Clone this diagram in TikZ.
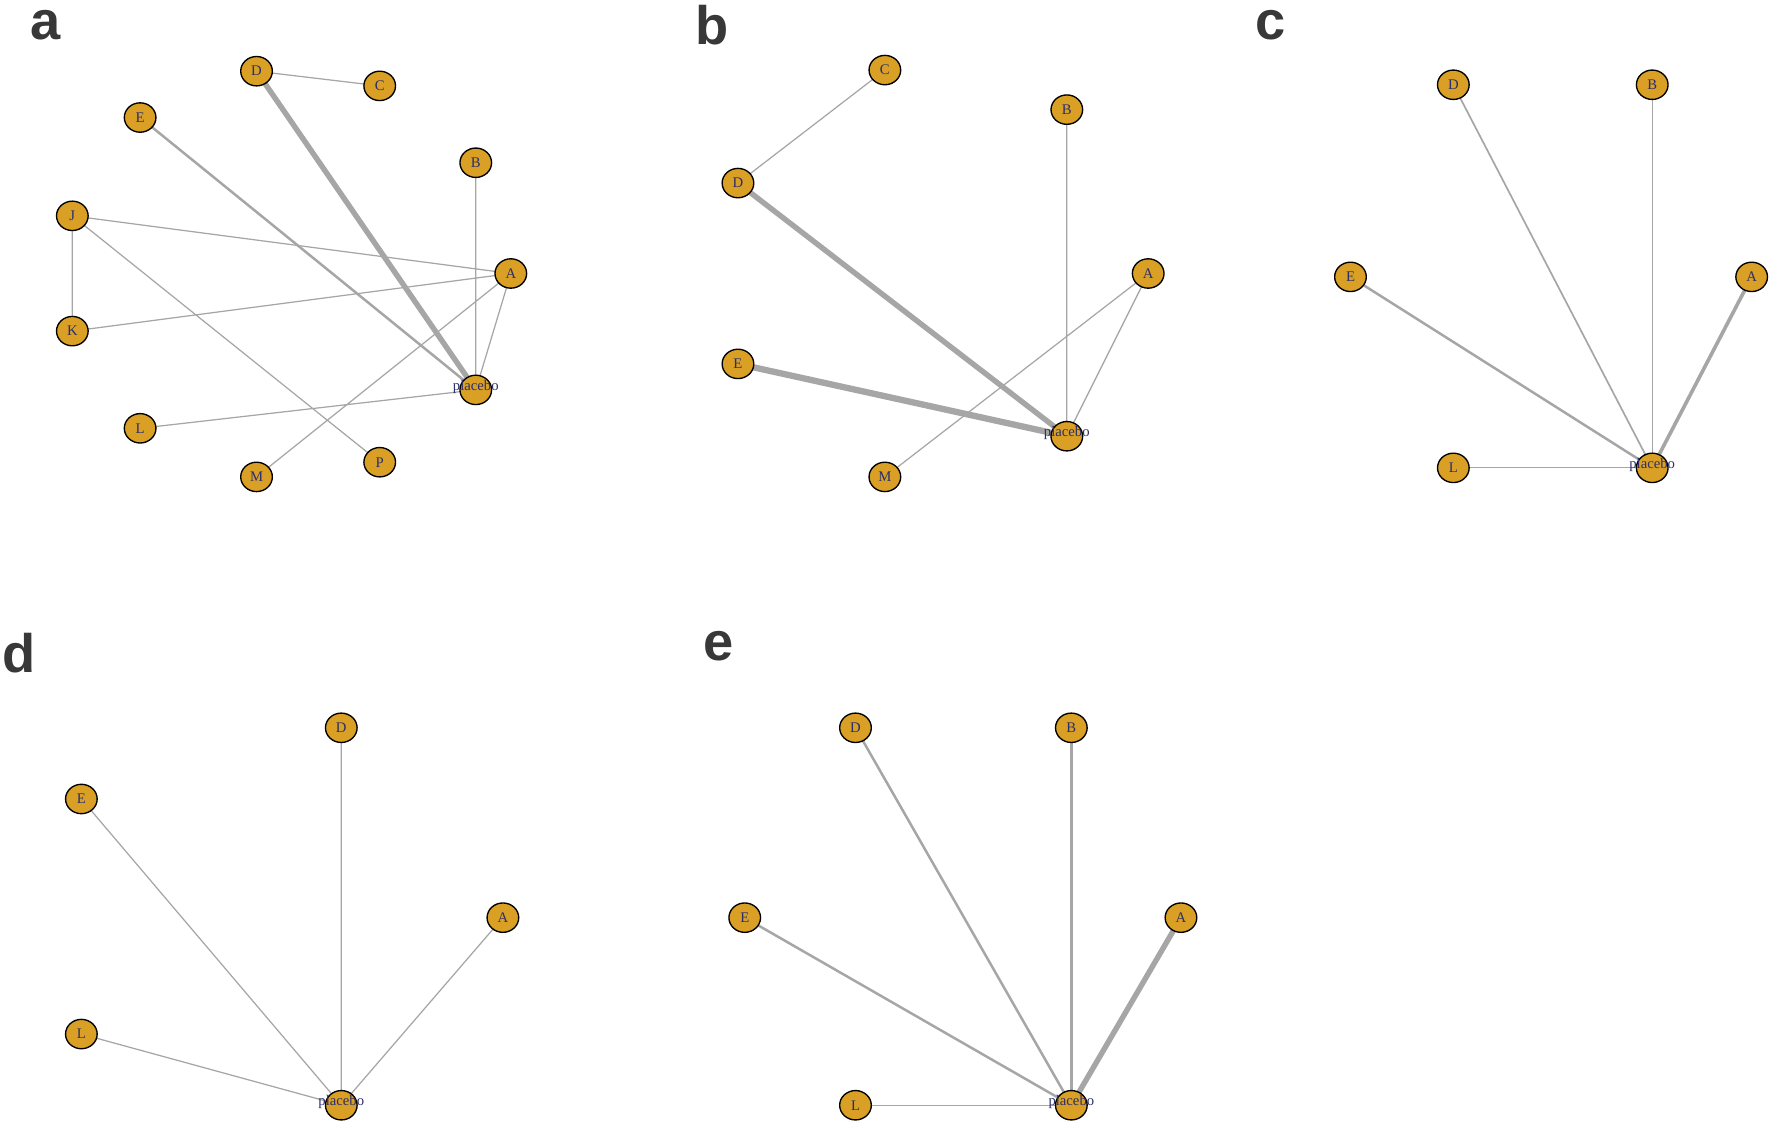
\documentclass[tikz,border=0pt]{standalone}
\usetikzlibrary{shapes.geometric,calc}
\usepackage{fontspec}
\setmainfont{Liberation Serif}
\newfontfamily\panelfont{Liberation Sans}
\definecolor{nodefill}{HTML}{D9A025}
\definecolor{lbl}{HTML}{2B2E6B}
\definecolor{edge}{HTML}{A6A6A6}
\begin{document}
\begin{tikzpicture}[x=0.5pt,y=-0.5pt,
  nd/.style={ellipse,draw=black,line width=0.6pt,fill=nodefill,minimum width=14pt,minimum height=13pt,inner sep=0pt,font=\fontsize{6.5}{6.5}\selectfont,text=lbl},
  pl/.style={ellipse,draw=black,line width=0.6pt,fill=nodefill,minimum width=14pt,minimum height=13pt,inner sep=0pt},
  plt/.style={font=\fontsize{6.5}{6.5}\selectfont,text=lbl},
  e1/.style={draw=edge,line width=0.55pt},
  e2/.style={draw=edge,line width=1.1pt},
  e3/.style={draw=edge,line width=1.6pt},
  e4/.style={draw=edge,line width=2.4pt},
  e5/.style={draw=edge,line width=2.8pt},
  pn/.style={font=\panelfont\bfseries\fontsize{24}{24}\selectfont,text=black!78}]
\useasboundingbox (0,0) rectangle (1568,995);
\node[pn] (la) at (40,22) {a};
\node[pn] (lb) at (630,22) {b};
\node[pn] (lc) at (1124,22) {c};
\node[pn] (ld) at (17,578) {d};
\node[pn] (le) at (636,572) {e};
% panel a
\coordinate (aD) at (227,63); \coordinate (aC) at (336,76); \coordinate (aE) at (124,104);
\coordinate (aB) at (421,144); \coordinate (aJ) at (64,191); \coordinate (aA) at (452,242);
\coordinate (aK) at (64,293); \coordinate (ap) at (421,345); \coordinate (aL) at (124,379);
\coordinate (aM) at (227,422); \coordinate (aP) at (336,409);
\path[e1] (aD)--(aC) (aB)--(ap) (aJ)--(aA) (aJ)--(aK) (aJ)--(aP) (aK)--(aA) (aA)--(aM) (aA)--(ap) (aL)--(ap);
\path[e4] (aD)--(ap);
\path[e2] (aE)--(ap);
\foreach \n in {D,C,E,B,J,A,K,L,M,P}{\node[nd] (naa\n) at (a\n) {\n};}
\node[pl] (nap) at (ap) {}; \node[plt] (tap) at ($(ap)+(0,-3)$) {placebo};
% panel b
\coordinate (bC) at (783,62); \coordinate (bB) at (944,97); \coordinate (bD) at (653,162);
\coordinate (bA) at (1016,242); \coordinate (bE) at (653,322); \coordinate (bp) at (944,386);
\coordinate (bM) at (783,422);
\path[e1] (bC)--(bD) (bB)--(bp) (bA)--(bM) (bA)--(bp);
\path[e4] (bD)--(bp);
\path[e5] (bE)--(bp);
\foreach \n in {C,B,D,A,E,M}{\node[nd] (nbb\n) at (b\n) {\n};}
\node[pl] (nbp) at (bp) {}; \node[plt] (tbp) at ($(bp)+(0,-3)$) {placebo};
% panel c
\coordinate (cD) at (1286,75); \coordinate (cB) at (1462,75); \coordinate (cE) at (1195,245);
\coordinate (cA) at (1550,245); \coordinate (cL) at (1286,414); \coordinate (cp) at (1462,414);
\path[e1] (cB)--(cp) (cL)--(cp);
\path[e1,line width=0.75pt] (cD)--(cp);
\path[e2] (cE)--(cp);
\path[e3] (cA)--(cp);
\foreach \n in {D,B,E,A,L}{\node[nd] (ncc\n) at (c\n) {\n};}
\node[pl] (ncp) at (cp) {}; \node[plt] (tcp) at ($(cp)+(0,-3)$) {placebo};
% panel d
\coordinate (dD) at (302,644); \coordinate (dE) at (72,707); \coordinate (dA) at (445,812);
\coordinate (dL) at (72,915); \coordinate (dp) at (302,978);
\path[e1] (dD)--(dp) (dE)--(dp) (dA)--(dp) (dL)--(dp);
\foreach \n in {D,E,A,L}{\node[nd] (ndd\n) at (d\n) {\n};}
\node[pl] (ndp) at (dp) {}; \node[plt] (tdp) at ($(dp)+(0,-3)$) {placebo};
% panel e
\coordinate (eD) at (757,644); \coordinate (eB) at (948,644); \coordinate (eE) at (659,812);
\coordinate (eA) at (1045,812); \coordinate (eL) at (757,978); \coordinate (ep) at (948,978);
\path[e1] (eL)--(ep);
\path[e2] (eD)--(ep) (eE)--(ep);
\path[e3] (eB)--(ep);
\path[e4] (eA)--(ep);
\foreach \n in {D,B,E,A,L}{\node[nd] (nee\n) at (e\n) {\n};}
\node[pl] (nep) at (ep) {}; \node[plt] (tep) at ($(ep)+(0,-3)$) {placebo};
\end{tikzpicture}
\end{document}
